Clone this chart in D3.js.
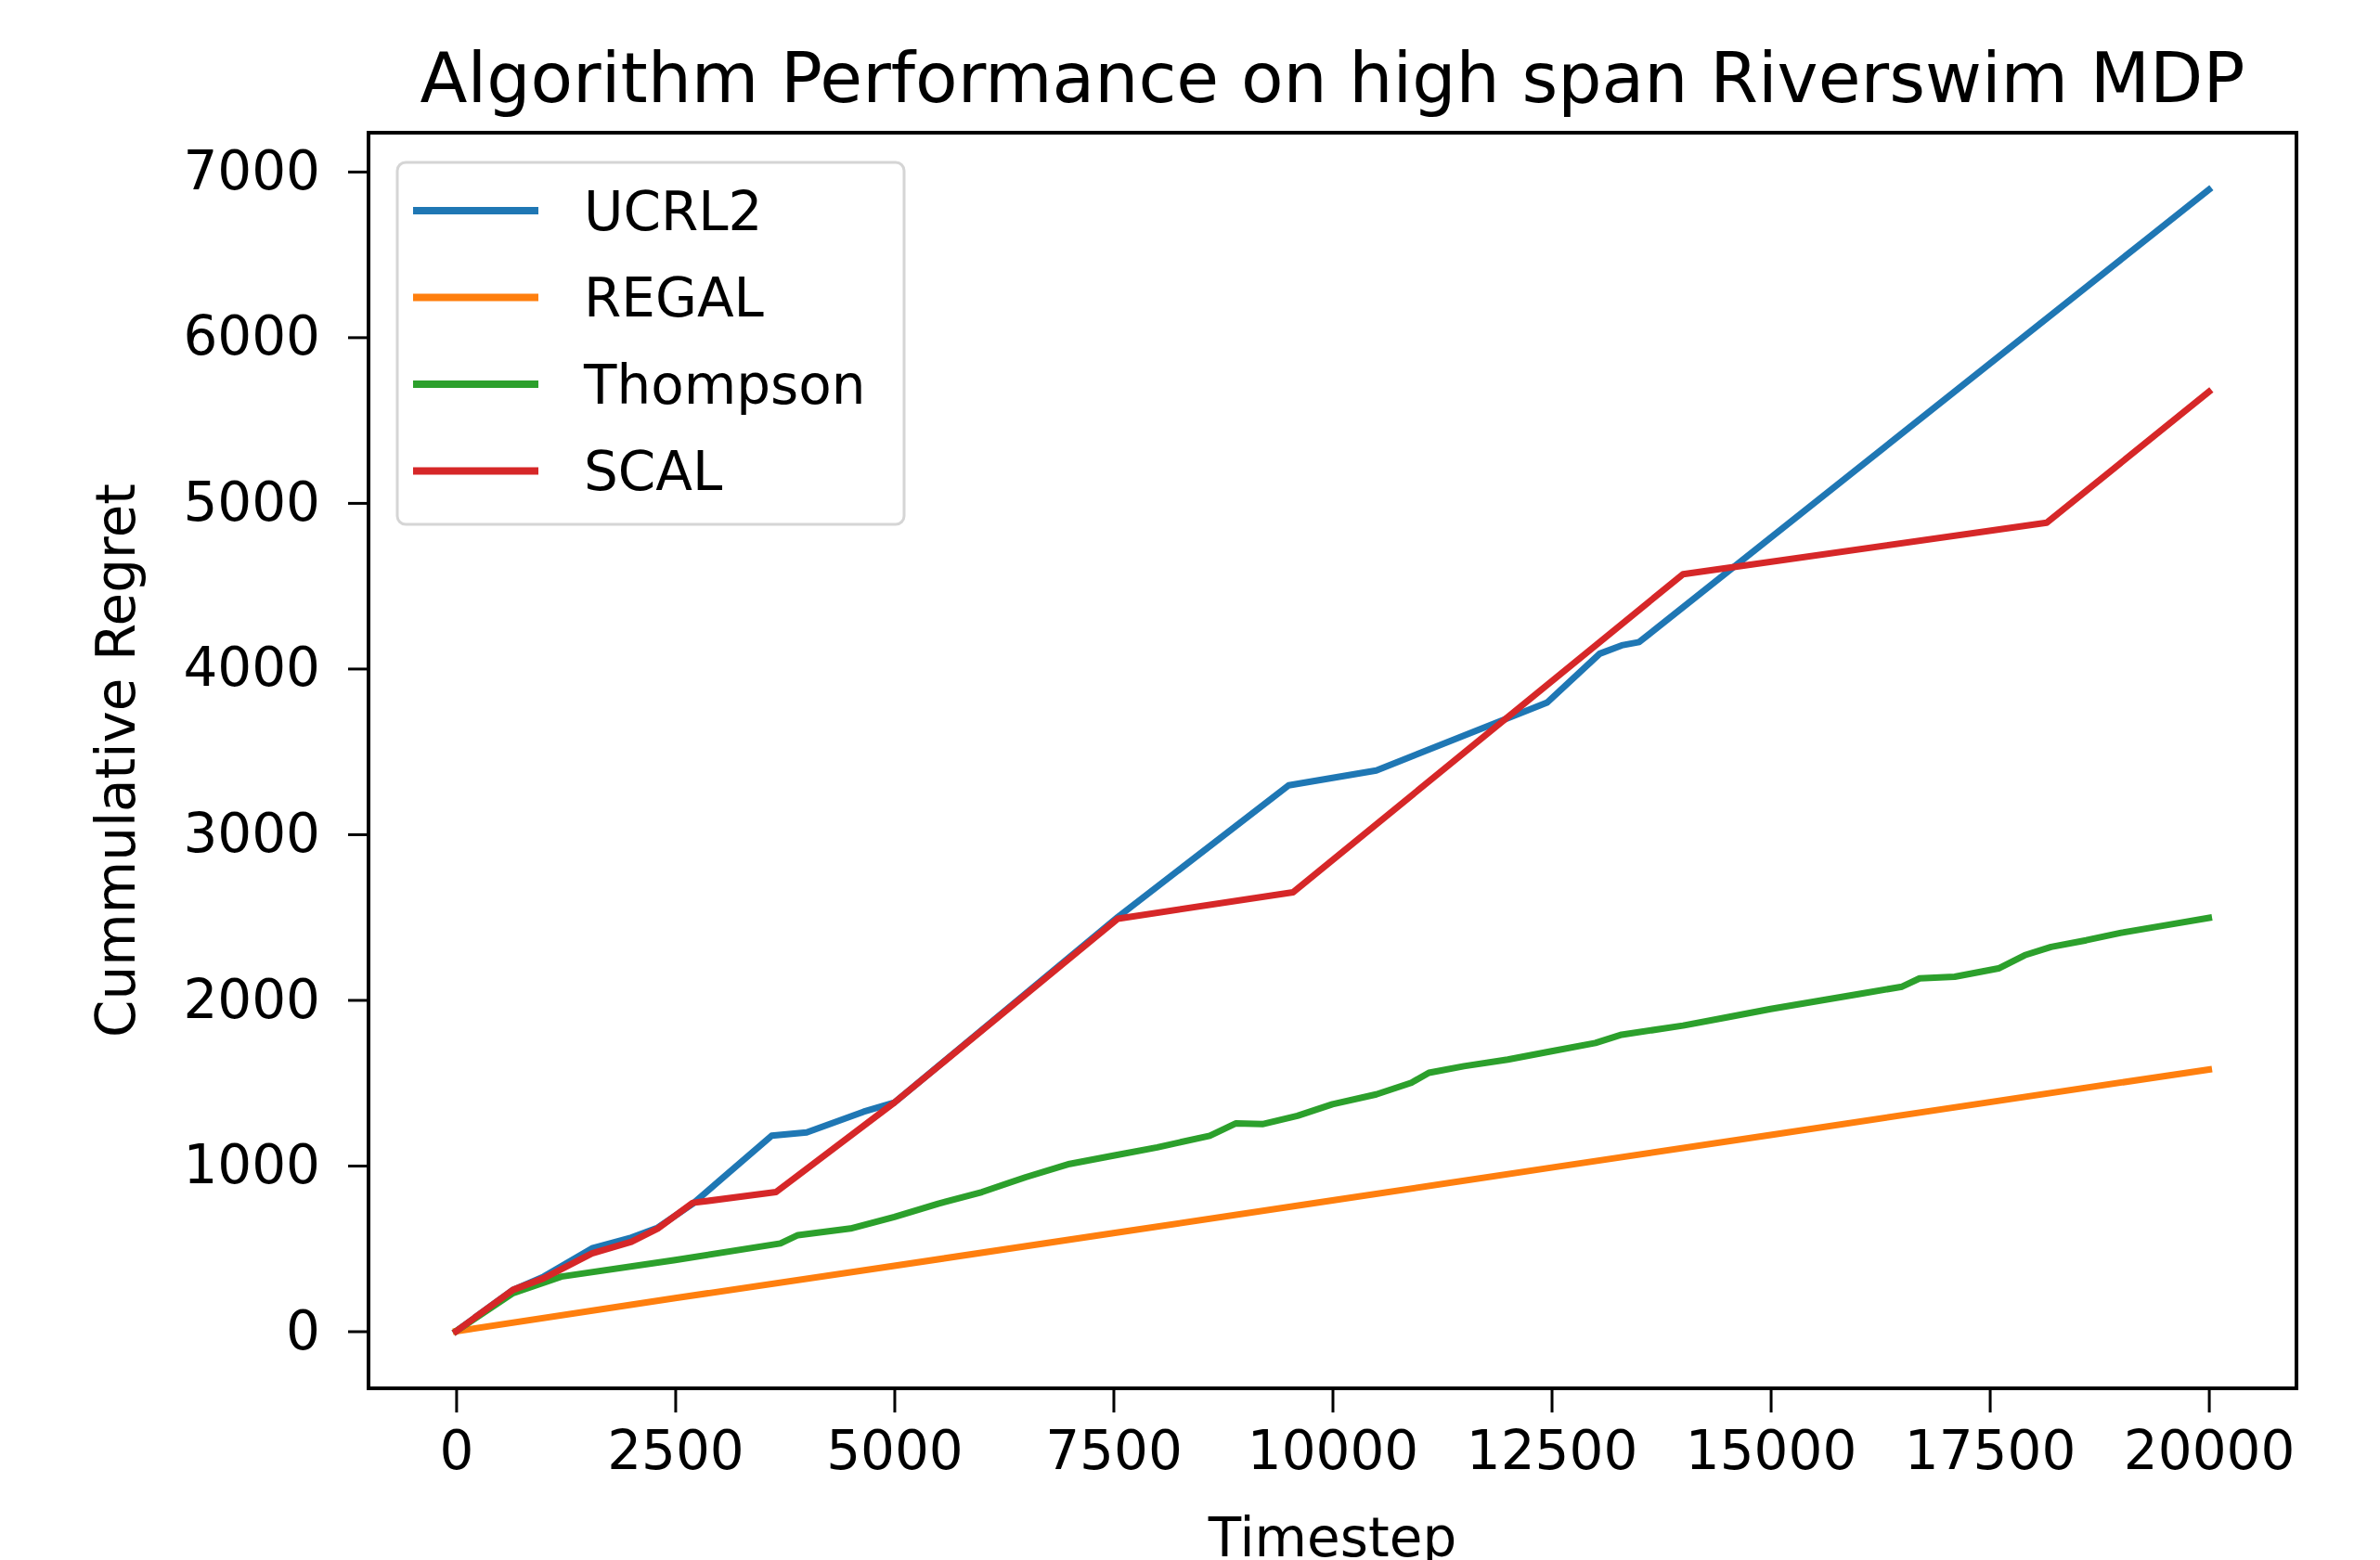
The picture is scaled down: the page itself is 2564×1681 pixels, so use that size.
<!DOCTYPE html>
<html>
<head>
<meta charset="utf-8">
<script src="https://cdn.jsdelivr.net/npm/d3@7"></script>
<style>
  body { margin: 0; background: #fff; }
  svg text { font-family: "DejaVu Sans", sans-serif; fill: #000; }
</style>
</head>
<body>
<svg width="2564" height="1681"></svg>
<script>
// series (timestep, cumulative regret)
var ucrl2 = [[0,0],[650,250],[1000,330],[1550,500],[2000,565],[2300,625],[2700,770],[3600,1180],[4000,1200],[4650,1325],[5000,1380],[7550,2500],[9500,3295],[10500,3385],[12450,3795],[13050,4090],[13300,4140],[13500,4160],[20000,6890]];
var regal = [[0,0],[2500,200],[5000,395],[7500,592],[10000,790],[12500,988],[15000,1185],[17500,1383],[20000,1580]];
var thompson = [[0,0],[650,230],[1200,330],[2500,430],[3700,530],[3900,580],[4500,620],[5000,690],[5500,770],[6000,840],[6500,930],[7000,1010],[7500,1060],[8000,1110],[8600,1180],[8900,1255],[9200,1250],[9600,1300],[10000,1370],[10500,1430],[10900,1500],[11100,1560],[11500,1600],[12000,1640],[12500,1690],[13000,1740],[13300,1790],[14000,1845],[14500,1895],[15000,1945],[15500,1990],[16000,2035],[16500,2080],[16700,2130],[17100,2140],[17600,2190],[17900,2270],[18200,2320],[18600,2360],[19000,2405],[19500,2450],[20000,2495]];
var scal = [[0,0],[650,250],[1000,320],[1550,470],[2000,540],[2300,620],[2700,775],[3650,840],[5000,1380],[7550,2490],[9550,2650],[14000,4570],[18150,4880],[20000,5670]];

var names = ["UCRL2", "REGAL", "Thompson", "SCAL"];
var colors = ["#1f77b4", "#ff7f0e", "#2ca02c", "#d62728"];
var xTicks = [0, 2500, 5000, 7500, 10000, 12500, 15000, 17500, 20000];
var yTicks = [0, 1000, 2000, 3000, 4000, 5000, 6000, 7000];

var series = [ucrl2, regal, thompson, scal];

var svg = d3.select("svg"),
    plotLeft = 397, plotRight = 2474, plotTop = 143, plotBottom = 1496;

// matplotlib style 5% margins
var xMax = d3.max(series, s => d3.max(s, d => d[0])),
    yMax = d3.max(series, s => d3.max(s, d => d[1]));
var xPad = xMax * 0.05, yPad = yMax * 0.05;

var x = d3.scaleLinear().domain([-xPad, xMax + xPad]).range([plotLeft, plotRight]),
    y = d3.scaleLinear().domain([-yPad, yMax + yPad]).range([plotBottom, plotTop]);

var line = d3.line().x(d => x(d[0])).y(d => y(d[1]));

var g = svg.append("g");

g.selectAll(".series")
    .data(series)
    .enter().append("path")
    .attr("class", "series")
    .attr("d", line)
    .attr("fill", "none")
    .attr("stroke", (d, i) => colors[i])
    .attr("stroke-width", 7)
    .attr("stroke-linejoin", "round")
    .attr("stroke-linecap", "square");

// axes
var xAxis = g.append("g")
    .attr("transform", "translate(0," + plotBottom + ")")
    .call(d3.axisBottom(x).tickValues(xTicks).tickSize(26).tickPadding(20).tickFormat(d3.format("d")));
xAxis.select(".domain").remove();
xAxis.selectAll("line").attr("stroke", "#000").attr("stroke-width", 3);
xAxis.selectAll("text").attr("font-size", 58).attr("fill", "#000");

var yAxis = g.append("g")
    .attr("transform", "translate(" + plotLeft + ",0)")
    .call(d3.axisLeft(y).tickValues(yTicks).tickSize(22).tickPadding(30).tickFormat(d3.format("d")));
yAxis.select(".domain").remove();
yAxis.selectAll("line").attr("stroke", "#000").attr("stroke-width", 3);
yAxis.selectAll("text").attr("font-size", 58).attr("fill", "#000");

// frame
g.append("rect")
    .attr("x", plotLeft).attr("y", plotTop)
    .attr("width", plotRight - plotLeft).attr("height", plotBottom - plotTop)
    .attr("fill", "none")
    .attr("stroke", "#000")
    .attr("stroke-width", 4);

// titles
svg.append("text")
    .attr("x", (plotLeft + plotRight) / 2).attr("y", 110)
    .attr("text-anchor", "middle")
    .attr("font-size", 74.5)
    .text("Algorithm Performance on high span Riverswim MDP");

svg.append("text")
    .attr("x", (plotLeft + plotRight) / 2).attr("y", 1677)
    .attr("text-anchor", "middle")
    .attr("font-size", 58)
    .text("Timestep");

svg.append("text")
    .attr("transform", "translate(145," + (plotTop + plotBottom) / 2 + ") rotate(-90)")
    .attr("text-anchor", "middle")
    .attr("font-size", 58)
    .text("Cummulative Regret");

// legend
var lg = svg.append("g");
lg.append("rect")
    .attr("x", 428).attr("y", 175)
    .attr("width", 546).attr("height", 390)
    .attr("rx", 9)
    .attr("fill", "#fff").attr("fill-opacity", 0.8)
    .attr("stroke", "#d5d5d5").attr("stroke-width", 3);

var rowY = 227, rowStep = 93.5;
var items = lg.selectAll(".legendItem")
    .data(names)
    .enter().append("g")
    .attr("class", "legendItem")
    .attr("transform", (d, i) => "translate(0," + (rowY + rowStep * i) + ")");

items.append("line")
    .attr("x1", 445).attr("x2", 580)
    .attr("stroke", (d, i) => colors[i])
    .attr("stroke-width", 8);

items.append("text")
    .attr("x", 629)
    .attr("dy", "0.36em")
    .attr("font-size", 58)
    .text(d => d);
</script>
</body>
</html>
